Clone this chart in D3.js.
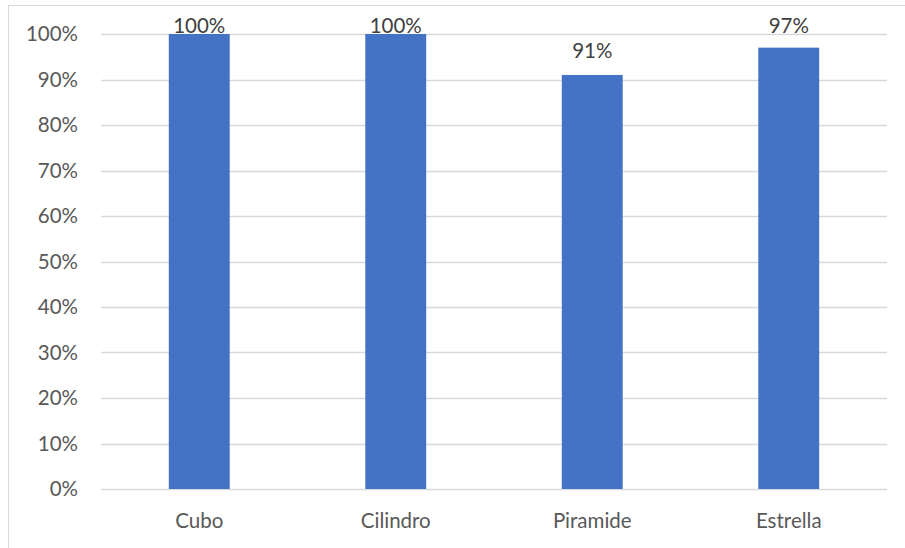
<!DOCTYPE html>
<html>
<head>
<meta charset="utf-8">
<script src="https://cdn.jsdelivr.net/npm/d3@7"></script>
<style>
  html, body { margin: 0; padding: 0; background: #fff; }
  svg { display: block; }
  text { font-family: Lato, "Open Sans", sans-serif; }
</style>
</head>
<body>
<svg id="chart" width="905" height="548"></svg>
<script>
// Share of correct answers per shape
const categories = ["Cubo", "Cilindro", "Piramide", "Estrella"];
const values = [1.00, 1.00, 0.91, 0.97];
const valueLabels = ["100%", "100%", "91%", "97%"];
const tickValues = [0, 0.1, 0.2, 0.3, 0.4, 0.5, 0.6, 0.7, 0.8, 0.9, 1.0];

const svg = d3.select("#chart");
const W = 905, H = 548;
const plot = { left: 101, right: 887, top: 34, bottom: 489 };
const fontSize = "20.5px";

// chart frame
svg.append("rect")
  .attr("x", 8.5).attr("y", 5.5)
  .attr("width", W + 10).attr("height", H + 10)
  .attr("fill", "#fff").attr("stroke", "#d9d9d9").attr("stroke-width", 1);

const x = d3.scaleBand()
  .domain(categories)
  .range([plot.left, plot.right])
  .paddingInner(0.69)
  .paddingOuter(0.345);

const y = d3.scaleLinear()
  .domain([0, 1])
  .range([plot.bottom, plot.top]);

// horizontal gridlines
svg.append("g")
  .selectAll("line")
  .data(tickValues)
  .join("line")
  .attr("x1", plot.left).attr("x2", plot.right)
  .attr("y1", d => Math.round(y(d)) + 0.5)
  .attr("y2", d => Math.round(y(d)) + 0.5)
  .attr("stroke", "#d9d9d9").attr("stroke-width", 1.3);

// y axis labels
const yAxis = d3.axisLeft(y)
  .tickValues(tickValues)
  .tickFormat(d3.format(".0%"))
  .tickSize(0)
  .tickPadding(23);
const gy = svg.append("g").attr("transform", `translate(${plot.left},0)`).call(yAxis);
gy.select(".domain").remove();
gy.selectAll("text")
  .attr("fill", "#595959")
  .style("font-size", fontSize)
  .style("font-family", "Lato, 'Open Sans', sans-serif");

// x axis labels
const xAxis = d3.axisBottom(x).tickSize(0).tickPadding(24);
const gx = svg.append("g").attr("transform", `translate(0,${plot.bottom})`).call(xAxis);
gx.select(".domain").remove();
gx.selectAll("text")
  .attr("fill", "#595959")
  .style("font-size", fontSize)
  .style("font-family", "Lato, 'Open Sans', sans-serif");

// bars
svg.append("g")
  .selectAll("rect")
  .data(categories)
  .join("rect")
  .attr("x", d => x(d))
  .attr("width", x.bandwidth())
  .attr("y", (d, i) => y(values[i]))
  .attr("height", (d, i) => y(0) - y(values[i]))
  .attr("fill", "#4472c4");

// value labels above bars, kept inside the chart top
svg.append("g")
  .selectAll("text")
  .data(categories)
  .join("text")
  .attr("x", d => x(d) + x.bandwidth() / 2)
  .attr("y", (d, i) => Math.max(y(values[i]) - 17, 33))
  .attr("text-anchor", "middle")
  .attr("fill", "#404040")
  .style("font-size", fontSize)
  .text((d, i) => valueLabels[i]);
</script>
</body>
</html>
